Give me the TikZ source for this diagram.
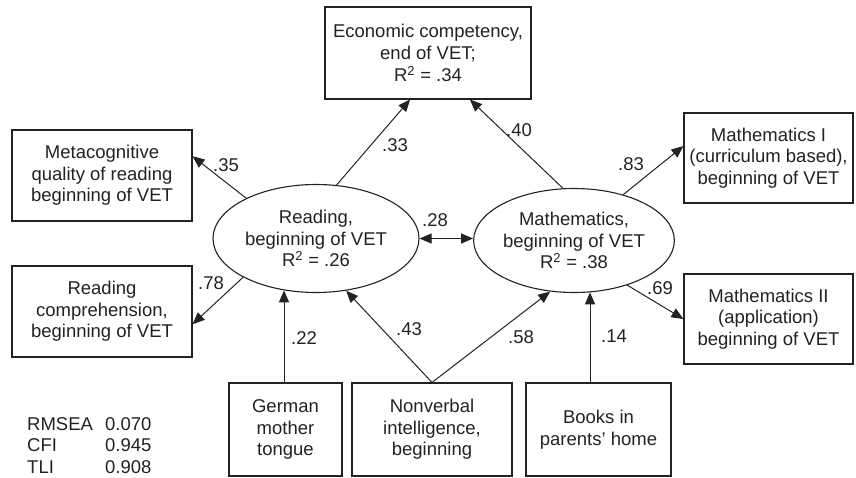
\documentclass[tikz,border=0pt]{standalone}
\usepackage{fontspec}
\setmainfont{Liberation Sans}
\usetikzlibrary{arrows.meta,shapes.geometric}
\definecolor{ink}{HTML}{222222}
\begin{document}
\begin{tikzpicture}[x=1pt,y=-1pt,
  every node/.style={text=ink, font=\fontsize{18.5}{21.7}\selectfont},
  box/.style={draw=ink, line width=1.1pt, align=center, inner sep=2pt},
  latent/.style={draw=ink, line width=1.1pt, ellipse, align=center, inner sep=0pt},
  path/.style={draw=ink, line width=1pt, -{Triangle[length=12pt,width=10pt]}},
  covar/.style={draw=ink, line width=1pt, {Triangle[length=12pt,width=10pt]}-{Triangle[length=12pt,width=10pt]}},
  coef/.style={inner sep=0pt},
  fit/.style={anchor=base west, inner sep=0pt}
]
\useasboundingbox (0,0) rectangle (856,477);

% outcome
\node[box, minimum width=206pt, minimum height=92pt] (econ) at (428,53)
  {Economic competency,\\ end of VET;\\ R\textsuperscript{2} = .34};

% latent factors
\node[latent, minimum width=206pt, minimum height=108pt] (reading) at (316,238.5)
  {Reading,\\ beginning of VET\\ R\textsuperscript{2} = .26};
\node[latent, minimum width=198pt, minimum height=104pt] (math) at (574,240.5)
  {Mathematics,\\ beginning of VET\\ R\textsuperscript{2} = .38};

% indicators
\node[box, minimum width=180pt, minimum height=91pt] (meta) at (102,175.5)
  {Metacognitive\\ quality of reading\\ beginning of VET};
\node[box, minimum width=180pt, minimum height=91pt] (rcomp) at (102,311.5)
  {Reading\\ comprehension,\\ beginning of VET};
\node[box, minimum width=169pt, minimum height=90pt] (mathI) at (768.5,158)
  {Mathematics I\\ (curriculum based),\\ beginning of VET};
\node[box, minimum width=169pt, minimum height=90pt] (mathII) at (768.5,319)
  {Mathematics II\\ (application)\\ beginning of VET};

% predictors
\node[box, minimum width=113pt, minimum height=93pt] (german) at (285.5,429.5)
  {German\\ mother\\ tongue};
\node[box, minimum width=160pt, minimum height=93pt] (nonverbal) at (432,429.5)
  {Nonverbal\\ intelligence,\\ beginning};
\node[box, minimum width=145pt, minimum height=93pt] (books) at (598.5,429.5)
  {Books in\\ parents’ home};

% paths
\draw[path] (reading.69) -- (econ.249);
\draw[path] (math.102) -- (econ.312.4);
\draw[path] (reading.150.7) -- (meta.12.8);
\draw[path] (reading.208.4) -- (rcomp.352.7);
\draw[path] (math.43.8) -- (mathI.172.6);
\draw[path] (math.320.1) -- (mathII.west);
\draw[covar] (reading.east) -- (reading.east -| math.west);

\coordinate (gstart) at ([xshift=-1.5pt]german.north);
\draw[path] (gstart) -- (gstart |- reading.238);
\draw[path] (nonverbal.north) -- (reading.300.8);
\draw[path] (nonverbal.north) -- (math.245.2);
\coordinate (bstart) at ([xshift=-8.5pt]books.north);
\draw[path] (bstart) -- (bstart |- math.288);

% coefficients
\node[coef] (c33) at (395,145) {.33};
\node[coef] (c40) at (519,130) {.40};
\node[coef] (c35) at (226,165) {.35};
\node[coef] (c78) at (211,283) {.78};
\node[coef] (c83) at (631,164) {.83};
\node[coef] (c69) at (660,288) {.69};
\node[coef] (c28) at (435,220) {.28};
\node[coef] (c22) at (304,338) {.22};
\node[coef] (c43) at (409,329) {.43};
\node[coef] (c58) at (521,337) {.58};
\node[coef] (c14) at (614,336) {.14};

% model fit
\node[fit] (rmseaL) at (27,430) {RMSEA};
\node[fit] (rmseaV) at (105,430) {0.070};
\node[fit] (cfiL) at (27,451.7) {CFI};
\node[fit] (cfiV) at (105,451.7) {0.945};
\node[fit] (tliL) at (27,473.3) {TLI};
\node[fit] (tliV) at (105,473.3) {0.908};
\end{tikzpicture}
\end{document}
